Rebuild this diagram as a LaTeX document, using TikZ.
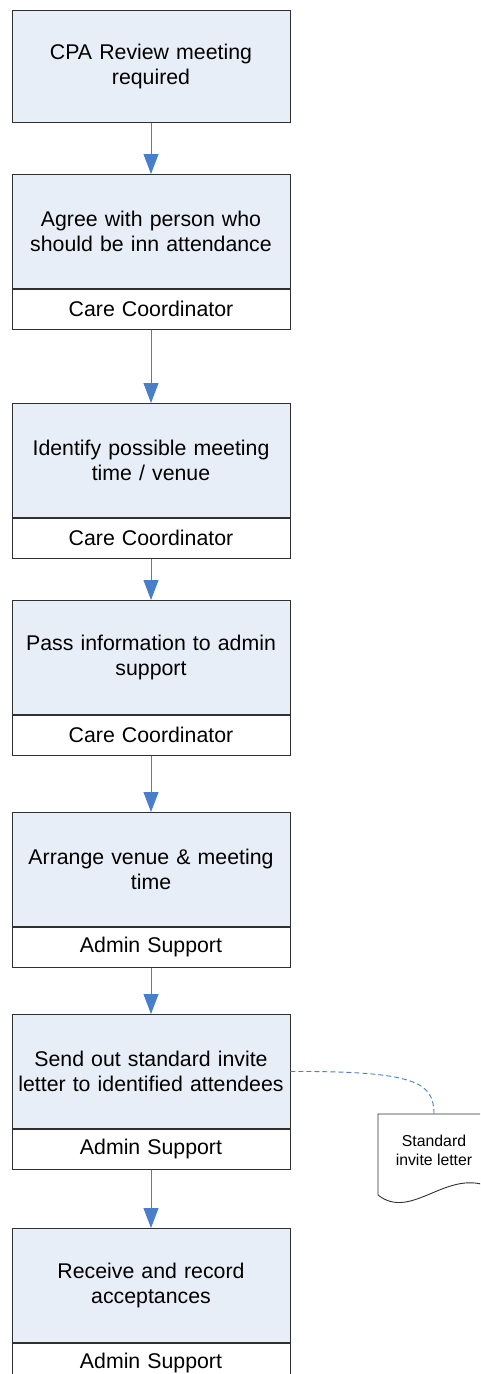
\documentclass[tikz,border=0pt]{standalone}
\usepackage{fontspec}
\setmainfont{Liberation Sans}
\usetikzlibrary{arrows.meta}
\definecolor{boxfill}{HTML}{E8EEF7}
\definecolor{arr}{HTML}{4A7EC8}
\definecolor{edge}{HTML}{303030}
\begin{document}
\begin{tikzpicture}[x=1pt,y=-1pt,
  task/.style={draw=edge,fill=boxfill,line width=0.9pt,minimum width=278pt,minimum height=114pt,
    text width=276pt,align=center,font=\fontsize{21.3}{25}\selectfont,inner sep=0pt,anchor=north},
  role/.style={draw=edge,fill=white,line width=0.9pt,minimum width=278pt,minimum height=40pt,
    text width=276pt,align=center,font=\fontsize{21.3}{25}\selectfont,inner sep=0pt,anchor=north},
  flow/.style={draw=arr,line width=0.9pt,-{Triangle[width=15pt,length=20pt,fill=arr]}},
  docline/.style={draw=arr,line width=0.9pt,dash pattern=on 5pt off 3pt}]
\useasboundingbox (0,0) rectangle (480,1374);
\clip (0,0) rectangle (480,1374);

\node[task,minimum height=112pt] (b1) at (151,10) {CPA Review meeting\\required};

\node[task] (b2) at (151,174) {Agree with person who\\should be inn attendance};
\node[role] (r2) at (b2.south) {Care Coordinator};

\node[task] (b3) at (151,403) {Identify possible meeting\\time / venue};
\node[role] (r3) at (b3.south) {Care Coordinator};

\node[task] (b4) at (151,600) {Pass information to admin\\support};
\node[role] (r4) at (b4.south) {Care Coordinator};

\node[task] (b5) at (151,812) {Arrange venue \& meeting\\time};
\node[role] (r5) at (b5.south) {Admin Support};

\node[task] (b6) at (151,1014) {Send out standard invite\\letter to identified attendees};
\node[role] (r6) at (b6.south) {Admin Support};

\node[task] (b7) at (151,1228) {Receive and record\\acceptances};
\node[role] (r7) at (b7.south) {Admin Support};

\draw[flow] (b1.south) -- (b2.north);
\draw[flow] (r2.south) -- (b3.north);
\draw[flow] (r3.south) -- (b4.north);
\draw[flow] (r4.south) -- (b5.north);
\draw[flow] (r5.south) -- (b6.north);
\draw[flow] (r6.south) -- (b7.north);

% document shape
\draw[edge,fill=white,line width=0.9pt] (378,1114) -- (492,1114) -- (492,1188)
  .. controls (448,1166) and (412,1222) .. (378,1195) -- cycle;
\coordinate (doctop) at (434,1114);
\node[font=\fontsize{15.8}{19}\selectfont,align=center,inner sep=0pt] (doc) at (434,1150) {Standard\\invite letter};

\draw[docline] (b6.east) .. controls (415,1071) and (434,1082) .. (doctop);
\end{tikzpicture}
\end{document}
